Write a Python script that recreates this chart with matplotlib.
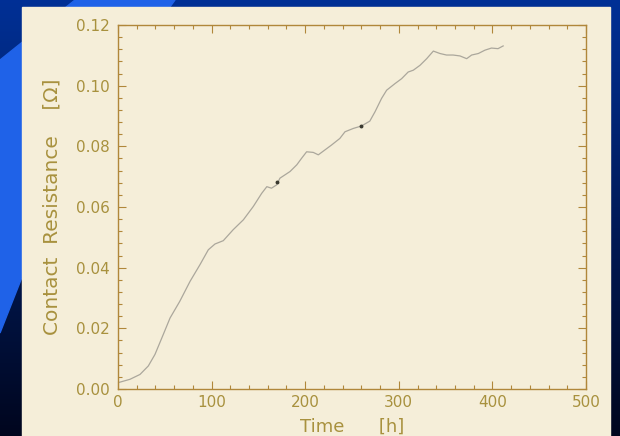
import matplotlib
matplotlib.use("Agg")
import matplotlib.pyplot as plt
from matplotlib.patches import Rectangle, Polygon
from matplotlib.ticker import MultipleLocator
import numpy as np

# contact resistance vs time
time_h = [0.3, 12.8, 23.5, 32.4, 39.5, 48.4, 55.6, 66, 77, 87.6, 96.5, 103.6,
          112.5, 123, 134, 144.6, 153.5, 159, 164, 169.5, 173, 178.4, 183.8,
          191, 196, 201.5, 208.6, 214, 221, 228, 237, 242.5, 251.4, 260, 269,
          274.6, 281.6, 287, 296, 303, 310, 315.5, 322.6, 329.8, 336.9, 344,
          351, 358, 365.4, 372.5, 377.8, 385, 392, 399, 406, 411.5]
resistance = [0.0021, 0.0032, 0.0048, 0.0076, 0.0114, 0.0180, 0.0234, 0.0289,
              0.0355, 0.0410, 0.0459, 0.0478, 0.0489, 0.0525, 0.0558, 0.0602,
              0.0645, 0.0667, 0.0662, 0.0673, 0.0695, 0.0706, 0.0717, 0.0739,
              0.0760, 0.0782, 0.0780, 0.0772, 0.0788, 0.0804, 0.0826, 0.0848,
              0.0859, 0.0867, 0.0883, 0.0914, 0.0958, 0.0985, 0.1007, 0.1023,
              0.1045, 0.1051, 0.1067, 0.1089, 0.1114, 0.1106, 0.1101, 0.1101,
              0.1098, 0.1089, 0.1101, 0.1106, 0.1117, 0.1124, 0.1122, 0.1131]
# two small dark specks on the trace
speck_t = [170, 260]
speck_r = [0.0682, 0.0867]

x_ticks = [0, 100, 200, 300, 400, 500]
y_ticks = [0.00, 0.02, 0.04, 0.06, 0.08, 0.10, 0.12]

gold = "#a8913e"
spine = "#b0873a"
curve = "#aba79c"
paper = "#f5eed9"

fig = plt.figure(figsize=(6.2, 4.36), dpi=100)

# slide background: dark blue gradient with a lighter diagonal band
bg = fig.add_axes([0, 0, 1, 1])
bg.set_xlim(0, 620)
bg.set_ylim(436, 0)
bg.axis("off")
top = np.array([0, 48, 150]) / 255
bottom = np.array([0, 6, 30]) / 255
g = np.linspace(0, 1, 436)[:, None, None]
grad = top * (1 - g) + bottom * g
grad = np.repeat(grad, 620, axis=1)
bg.imshow(grad, extent=[0, 620, 436, 0], aspect="auto", zorder=0)
bg.add_patch(Polygon([(0, 60), (75, 0), (175, 0), (80, 130), (0, 333)],
                     closed=True, color="#1f62e8", zorder=1))
bg.add_patch(Rectangle((22, 7), 588, 429, color=paper, zorder=2))

ax = fig.add_axes([118 / 620, 47 / 436, 468 / 620, 364 / 436])
ax.patch.set_alpha(0)
ax.plot(time_h, resistance, color=curve, lw=0.9)
ax.plot(speck_t, speck_r, ls="none", marker="o", ms=1.8, color="#3a3a30")

ax.set_xlim(0, 500)
ax.set_ylim(0, 0.12)
ax.set_xticks(x_ticks)
ax.set_yticks(y_ticks)
ax.set_yticklabels([f"{v:.2f}" for v in y_ticks])
ax.xaxis.set_minor_locator(MultipleLocator(20))
ax.yaxis.set_minor_locator(MultipleLocator(0.004))
ax.tick_params(which="both", direction="in", top=True, right=True,
               color=spine, width=0.8, labelcolor=gold, labelsize=11)
ax.tick_params(which="major", length=6)
ax.tick_params(which="minor", length=3)
ax.tick_params(axis="y", pad=6)
ax.tick_params(axis="x", pad=4)
for s in ax.spines.values():
    s.set_color(spine)
    s.set_linewidth(1.0)

ax.set_xlabel("Time      [h]", color=gold, fontsize=13, labelpad=6)
ax.set_ylabel("Contact  Resistance    [\u03a9]", color=gold, fontsize=14.5,
              labelpad=10)

fig.savefig("out.png", dpi=100)
